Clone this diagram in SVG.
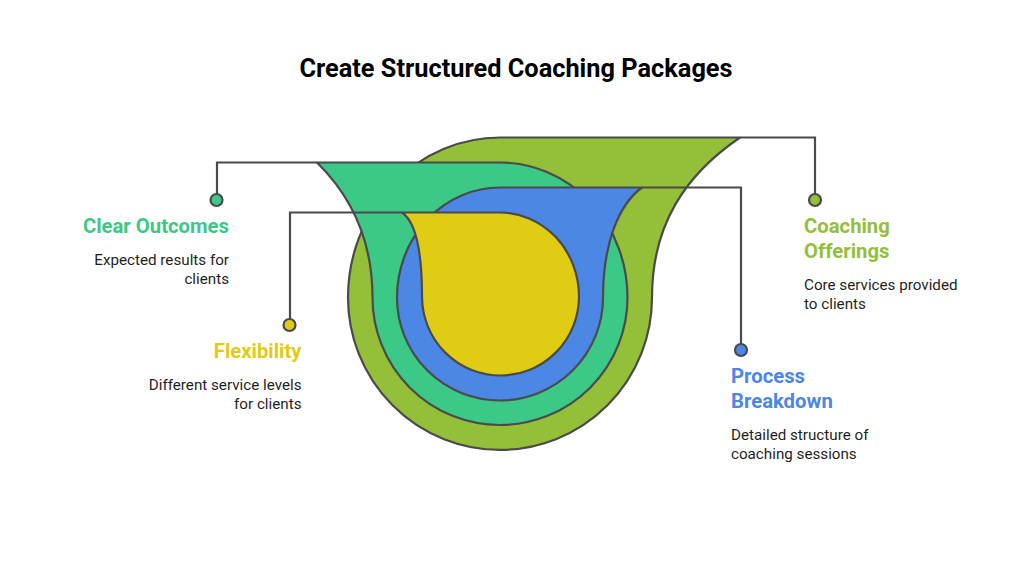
<svg xmlns="http://www.w3.org/2000/svg" width="1024" height="576" viewBox="0 0 1024 576">
<style>
.s{stroke:#4a4a4a;stroke-width:2.2;stroke-linejoin:round}
.c{fill:none;stroke:#4a4a4a;stroke-width:2.2}
text{font-family:Roboto,"Liberation Sans",sans-serif}
.t{font-size:25.35px;font-weight:700;fill:#000}
.h{font-size:20.3px;font-weight:700}
.d{font-size:15.2px;fill:#1f1f1f}
.r{text-anchor:end}
</style>
<rect width="1024" height="576" fill="#fff"/>
<text class="t" x="516" y="77" text-anchor="middle">Create Structured Coaching Packages</text>
<g id="shapes">
<path id="shape-olive" class="s" fill="#93bf39" d="M740 137.500H500A152 160 0 0 0 348 297.500A152 152.500 0 0 0 652 297.500C652 225 685 175 740 137.500Z"/>
<path id="shape-green" class="s" fill="#3cc886" d="M317 162.500H500A127.500 135 0 0 1 627.500 297.500A127.500 127.500 0 0 1 372.500 297.500C372.500 240 350 195 317 162.500Z"/>
<path id="shape-blue" class="s" fill="#4d87e6" d="M642 187.500H500A103 110 0 0 0 397 297.500A103 103 0 0 0 603 297.500C603 245 618 205 642 187.500Z"/>
<path id="shape-yellow" class="s" fill="#e0cc14" d="M402 212.500H500A79 84 0 0 1 579 296.500A78.500 79 0 0 1 422 296.500C422 250 416 222 402 212.500Z"/>
</g>
<g id="connectors">
<path class="c" d="M217 200V162.500H317"/>
<path class="c" d="M290 325V212.500H402"/>
<path class="c" d="M741 350V187.500H642"/>
<path class="c" d="M815 200V137.500H740"/>
</g>
<g id="node-clear-outcomes">
<circle class="s" cx="216.500" cy="200" r="6" fill="#3cc886"/>
<text class="h r" x="229" y="232.500" fill="#3cc886">Clear Outcomes</text>
<text class="d r" x="229" y="265">Expected results for</text>
<text class="d r" x="229" y="283.500">clients</text>
</g>
<g id="node-flexibility">
<circle class="s" cx="289.500" cy="325" r="6" fill="#e0cc14"/>
<text class="h r" x="301.500" y="357.500" fill="#e0cc14">Flexibility</text>
<text class="d r" x="301.500" y="390">Different service levels</text>
<text class="d r" x="301.500" y="409">for clients</text>
</g>
<g id="node-process-breakdown">
<circle class="s" cx="741" cy="350" r="6" fill="#4d87e6"/>
<text class="h" x="731" y="382.500" fill="#4d87e6">Process</text>
<text class="h" x="731" y="407.500" fill="#4d87e6">Breakdown</text>
<text class="d" x="731" y="440">Detailed structure of</text>
<text class="d" x="731" y="459">coaching sessions</text>
</g>
<g id="node-coaching-offerings">
<circle class="s" cx="815" cy="200" r="6" fill="#93bf39"/>
<text class="h" x="804" y="232.500" fill="#93bf39">Coaching</text>
<text class="h" x="804" y="257.500" fill="#93bf39">Offerings</text>
<text class="d" x="804" y="290">Core services provided</text>
<text class="d" x="804" y="309">to clients</text>
</g>
</svg>
